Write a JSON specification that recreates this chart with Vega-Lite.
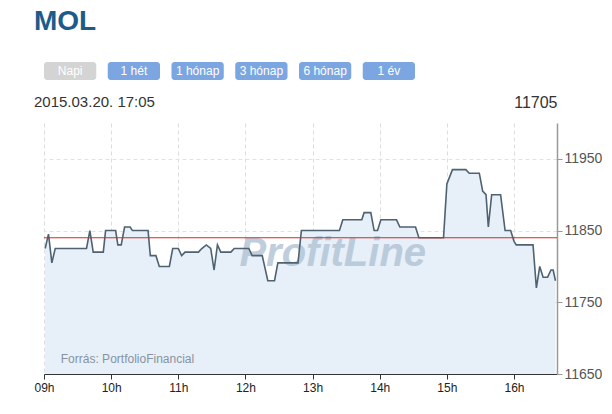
{
  "$schema": "https://vega.github.io/schema/vega-lite/v6.json",
  "background": "white",
  "padding": {"left": 33, "top": 8, "right": 0, "bottom": 0},
  "config": {"font": "Liberation Sans", "view": {"stroke": null}, "axis": {"labelOverlap": false}},
  "title": {"text": "MOL", "anchor": "start", "fontSize": 28, "fontWeight": "bold", "color": "#1b5c8c", "offset": 26},
  "spacing": 14,
  "vconcat": [
    {
      "width": 371,
      "height": 18,
      "data": {"values": [
        {"label": "Napi"}, {"label": "1 hét"}, {"label": "1 hónap"},
        {"label": "3 hónap"}, {"label": "6 hónap"}, {"label": "1 év"}
      ]},
      "encoding": {
        "x": {"field": "label", "type": "nominal", "sort": null, "axis": null, "scale": {"paddingInner": 0.18, "paddingOuter": 0}}
      },
      "layer": [
        {
          "mark": {"type": "bar", "cornerRadius": 3},
          "encoding": {
            "color": {"condition": {"test": "datum.label === 'Napi'", "value": "#d4d4d4"}, "value": "#7ba6e2"}
          }
        },
        {
          "mark": {"type": "text", "color": "white", "fontSize": 12, "baseline": "middle"},
          "encoding": {"text": {"field": "label", "type": "nominal"}}
        }
      ]
    },
    {
      "width": 513,
      "height": 251,
      "title": {"text": "2015.03.20. 17:05", "anchor": "start", "fontSize": 15, "fontWeight": "normal", "color": "#333333", "offset": -16},
      "layer": [
        {
          "data": {"name": "price", "values": [
            {"h": 9.017, "v": 11825}, {"h": 9.067, "v": 11845}, {"h": 9.117, "v": 11805}, {"h": 9.167, "v": 11825},
            {"h": 9.633, "v": 11825}, {"h": 9.683, "v": 11850}, {"h": 9.733, "v": 11820}, {"h": 9.883, "v": 11820},
            {"h": 9.917, "v": 11850}, {"h": 10.067, "v": 11850}, {"h": 10.1, "v": 11830}, {"h": 10.15, "v": 11830},
            {"h": 10.2, "v": 11855}, {"h": 10.283, "v": 11855}, {"h": 10.317, "v": 11850}, {"h": 10.55, "v": 11850},
            {"h": 10.583, "v": 11815}, {"h": 10.667, "v": 11815}, {"h": 10.717, "v": 11800}, {"h": 10.867, "v": 11800},
            {"h": 10.917, "v": 11825}, {"h": 11.0, "v": 11825}, {"h": 11.05, "v": 11815}, {"h": 11.1, "v": 11820},
            {"h": 11.3, "v": 11820}, {"h": 11.35, "v": 11825}, {"h": 11.417, "v": 11830}, {"h": 11.483, "v": 11825},
            {"h": 11.533, "v": 11795}, {"h": 11.583, "v": 11830}, {"h": 11.633, "v": 11820}, {"h": 11.783, "v": 11820},
            {"h": 11.833, "v": 11825}, {"h": 12.05, "v": 11825}, {"h": 12.1, "v": 11815}, {"h": 12.25, "v": 11815},
            {"h": 12.333, "v": 11780}, {"h": 12.433, "v": 11780}, {"h": 12.483, "v": 11805}, {"h": 12.783, "v": 11805},
            {"h": 12.833, "v": 11850}, {"h": 13.4, "v": 11850}, {"h": 13.45, "v": 11865}, {"h": 13.733, "v": 11865},
            {"h": 13.767, "v": 11875}, {"h": 13.867, "v": 11875}, {"h": 13.917, "v": 11850}, {"h": 13.967, "v": 11850},
            {"h": 14.017, "v": 11865}, {"h": 14.25, "v": 11865}, {"h": 14.3, "v": 11855}, {"h": 14.533, "v": 11855},
            {"h": 14.583, "v": 11840}, {"h": 14.95, "v": 11840}, {"h": 15.0, "v": 11915}, {"h": 15.083, "v": 11935},
            {"h": 15.283, "v": 11935}, {"h": 15.333, "v": 11930}, {"h": 15.483, "v": 11930}, {"h": 15.533, "v": 11905},
            {"h": 15.583, "v": 11900}, {"h": 15.617, "v": 11855}, {"h": 15.667, "v": 11900}, {"h": 15.8, "v": 11900},
            {"h": 15.867, "v": 11850}, {"h": 15.95, "v": 11850}, {"h": 16.0, "v": 11835}, {"h": 16.033, "v": 11830},
            {"h": 16.283, "v": 11830}, {"h": 16.333, "v": 11770}, {"h": 16.383, "v": 11800}, {"h": 16.433, "v": 11785},
            {"h": 16.5, "v": 11785}, {"h": 16.55, "v": 11795}, {"h": 16.583, "v": 11795}, {"h": 16.617, "v": 11780}
          ]},
          "mark": {"type": "area", "color": "#e7eff8"},
          "encoding": {
            "x": {
              "field": "h",
              "type": "quantitative",
              "scale": {"domain": [9, 16.64], "nice": false, "zero": false},
              "axis": {
                "title": null,
                "values": [9, 10, 11, 12, 13, 14, 15, 16],
                "labelExpr": "(datum.value < 10 ? '0' : '') + datum.value + 'h'",
                "labelColor": "#222222",
                "labelFontSize": 12,
                "labelPadding": 3,
                "labelFlush": false,
                "labelOverlap": false,
                "tickColor": "#333333",
                "tickSize": 5,
                "domainColor": "#333333",
                "domainWidth": 1.2,
                "grid": true,
                "gridColor": "#dddddd",
                "gridDash": [4, 3]
              }
            },
            "y": {
              "field": "v",
              "type": "quantitative",
              "scale": {"domain": [11650, 12000], "nice": false, "zero": false},
              "axis": {
                "orient": "right",
                "values": [11650, 11700, 11750, 11800, 11850, 11900, 11950, 12000],
                "format": "d",
                "labelOverlap": false,
                "labelFlush": false,
                "labelColor": "#555555",
                "labelFontSize": 14,
                "labelPadding": 2,
                "tickSize": 5,
                "tickColor": "#999999",
                "domainColor": "#999999",
                "domainWidth": 1.5,
                "grid": true,
                "gridColor": "#e2e2e2",
                "gridDash": [4, 3],
                "title": "11705",
                "titleAngle": 0,
                "titleAlign": "right",
                "titleBaseline": "alphabetic",
                "titleX": 0,
                "titleY": -16,
                "titleFontSize": 16,
                "titleFontWeight": "normal",
                "titleColor": "#333333"
              }
            },
            "y2": {"datum": 11650}
          }
        },
        {
          "data": {"values": [{}]},
          "mark": {"type": "text", "text": "ProfitLine", "fontSize": 40, "fontStyle": "italic", "fontWeight": "bold", "color": "#b3c6d6", "opacity": 0.85},
          "encoding": {"x": {"datum": 13.3}, "y": {"datum": 11818}}
        },
        {
          "data": {"name": "price"},
          "mark": {"type": "line", "color": "#4e6272", "strokeWidth": 1.6},
          "encoding": {
            "x": {"field": "h", "type": "quantitative"},
            "y": {"field": "v", "type": "quantitative"}
          }
        },
        {
          "data": {"values": [{}]},
          "mark": {"type": "rule", "color": "#d42b22", "strokeWidth": 1.2},
          "encoding": {"y": {"datum": 11840}}
        },
        {
          "data": {"values": [{}]},
          "mark": {"type": "text", "text": "Forrás: PortfolioFinancial", "fontSize": 12, "color": "#8694a2", "align": "left", "baseline": "alphabetic"},
          "encoding": {"x": {"datum": 9.25}, "y": {"datum": 11665}}
        }
      ]
    }
  ]
}
